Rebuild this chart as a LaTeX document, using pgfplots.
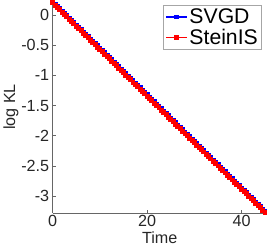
\documentclass[border=0pt]{standalone}
\usepackage{pgfplots}
\pgfplotsset{compat=1.18}
\usepackage{fontspec}
\setmainfont{Liberation Sans}
\definecolor{axgray}{RGB}{38,38,38}
\begin{document}
\begin{tikzpicture}
\begin{axis}[
  scale only axis, width=212pt, height=210pt,
  xmin=0, xmax=45.3, ymin=-3.28, ymax=0.232,
  axis x line*=bottom, axis y line*=left,
  axis line style={gray!80!black, line width=0.5pt},
  tick style={gray!80!black, line width=0.5pt},
  tick align=inside, major tick length=3pt,
  xtick={0,20,40}, ytick={-3,-2.5,-2,-1.5,-1,-0.5,0},
  /pgf/number format/assume math mode=true,
  /pgf/number format/fixed,
  ticklabel style={font=\fontsize{16}{16}\selectfont, text=axgray},
  xticklabel style={yshift=1pt},
  xlabel={Time}, ylabel={log KL},
  label style={font=\fontsize{16}{16}\selectfont, text=axgray},
  xlabel style={yshift=2pt},
  ylabel style={yshift=-4pt},
  legend style={at={(1,1)}, anchor=north east, xshift=-5pt, yshift=-4pt,
    font=\fontsize{21}{21}\selectfont, draw=gray!70, line width=0.6pt,
    inner sep=1.5pt, row sep=0pt},
  legend cell align=left,
  legend image code/.code={
    \draw[mark repeat=2,mark phase=2,#1] plot coordinates {(0cm,0cm) (0.36cm,0cm) (0.72cm,0cm)};},
  clip=true,
]
\addplot[blue, line width=1.5pt, mark=square*, mark size=1.7pt] coordinates {
(0,0.220) (0.5,0.181) (1,0.143) (1.5,0.104) (2,0.066) (2.5,0.027) (3,-0.012) (3.5,-0.050) (4,-0.089) (4.5,-0.127)
(5,-0.166) (5.5,-0.205) (6,-0.243) (6.5,-0.282) (7,-0.320) (7.5,-0.359) (8,-0.398) (8.5,-0.436) (9,-0.475) (9.5,-0.513)
(10,-0.552) (10.5,-0.591) (11,-0.629) (11.5,-0.668) (12,-0.706) (12.5,-0.745) (13,-0.784) (13.5,-0.822) (14,-0.861) (14.5,-0.899)
(15,-0.938) (15.5,-0.977) (16,-1.015) (16.5,-1.054) (17,-1.092) (17.5,-1.131) (18,-1.170) (18.5,-1.208) (19,-1.247) (19.5,-1.285)
(20,-1.324) (20.5,-1.363) (21,-1.401) (21.5,-1.440) (22,-1.478) (22.5,-1.517) (23,-1.556) (23.5,-1.594) (24,-1.633) (24.5,-1.671)
(25,-1.710) (25.5,-1.749) (26,-1.787) (26.5,-1.826) (27,-1.864) (27.5,-1.903) (28,-1.942) (28.5,-1.980) (29,-2.019) (29.5,-2.057)
(30,-2.096) (30.5,-2.135) (31,-2.173) (31.5,-2.212) (32,-2.250) (32.5,-2.289) (33,-2.328) (33.5,-2.366) (34,-2.405) (34.5,-2.443)
(35,-2.482) (35.5,-2.521) (36,-2.559) (36.5,-2.598) (37,-2.636) (37.5,-2.675) (38,-2.714) (38.5,-2.752) (39,-2.791) (39.5,-2.829)
(40,-2.868) (40.5,-2.907) (41,-2.945) (41.5,-2.984) (42,-3.022) (42.5,-3.061) (43,-3.100) (43.5,-3.138) (44,-3.177) (44.5,-3.215)
(45,-3.254)
};
\addlegendentry{SVGD}
\addplot[red, line width=1.5pt, mark=square*, mark size=1.7pt] coordinates {
(0,0.200) (0.5,0.161) (1,0.123) (1.5,0.084) (2,0.046) (2.5,0.007) (3,-0.032) (3.5,-0.070) (4,-0.109) (4.5,-0.147)
(5,-0.186) (5.5,-0.225) (6,-0.263) (6.5,-0.302) (7,-0.340) (7.5,-0.379) (8,-0.418) (8.5,-0.456) (9,-0.495) (9.5,-0.533)
(10,-0.572) (10.5,-0.611) (11,-0.649) (11.5,-0.688) (12,-0.726) (12.5,-0.765) (13,-0.804) (13.5,-0.842) (14,-0.881) (14.5,-0.919)
(15,-0.958) (15.5,-0.997) (16,-1.035) (16.5,-1.074) (17,-1.112) (17.5,-1.151) (18,-1.190) (18.5,-1.228) (19,-1.267) (19.5,-1.305)
(20,-1.344) (20.5,-1.383) (21,-1.421) (21.5,-1.460) (22,-1.498) (22.5,-1.537) (23,-1.576) (23.5,-1.614) (24,-1.653) (24.5,-1.691)
(25,-1.730) (25.5,-1.769) (26,-1.807) (26.5,-1.846) (27,-1.884) (27.5,-1.923) (28,-1.962) (28.5,-2.000) (29,-2.039) (29.5,-2.077)
(30,-2.116) (30.5,-2.155) (31,-2.193) (31.5,-2.232) (32,-2.270) (32.5,-2.309) (33,-2.348) (33.5,-2.386) (34,-2.425) (34.5,-2.463)
(35,-2.502) (35.5,-2.541) (36,-2.579) (36.5,-2.618) (37,-2.656) (37.5,-2.695) (38,-2.734) (38.5,-2.772) (39,-2.811) (39.5,-2.849)
(40,-2.888) (40.5,-2.927) (41,-2.965) (41.5,-3.004) (42,-3.042) (42.5,-3.081) (43,-3.120) (43.5,-3.158) (44,-3.197) (44.5,-3.235)
(45,-3.274)
};
\addlegendentry{SteinIS}
\end{axis}
\end{tikzpicture}
\end{document}
